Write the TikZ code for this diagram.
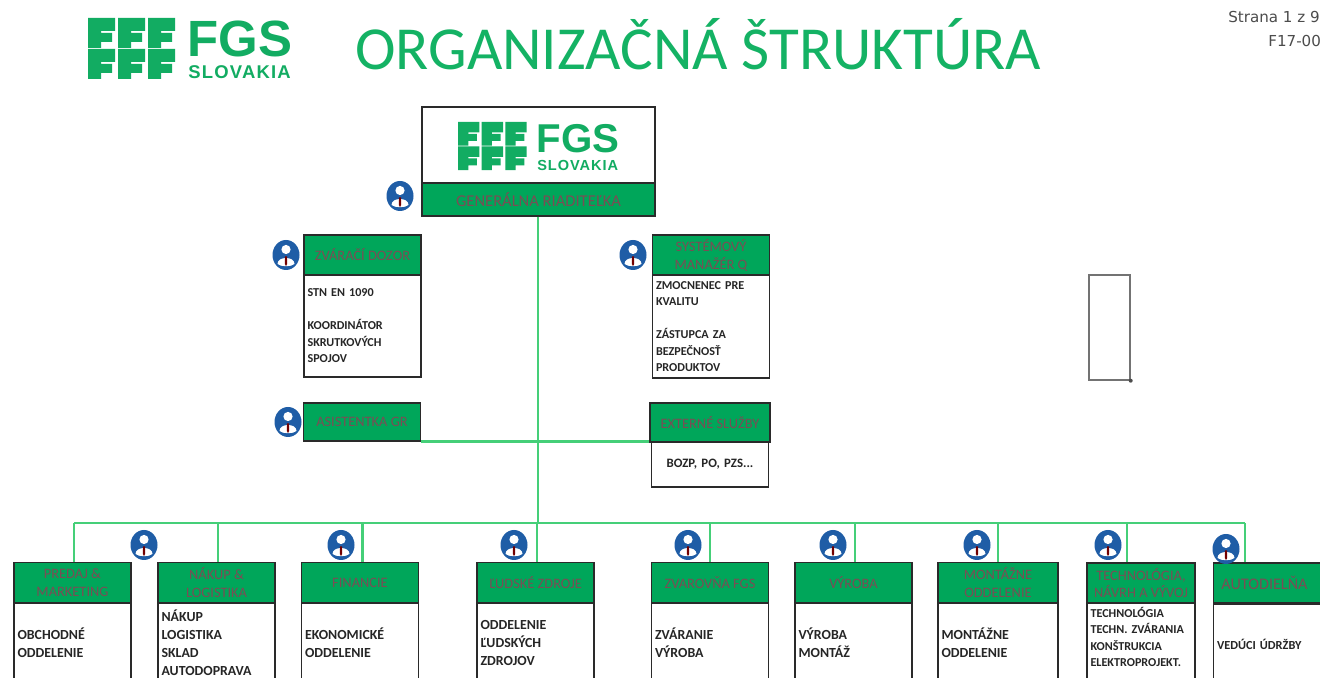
\documentclass[tikz,border=0pt]{standalone}
\usepackage{fontspec}
\setmainfont{Carlito}
\newfontfamily\logofont{Liberation Sans}
\newfontfamily\pagefont{DejaVu Sans}
\definecolor{fgsgreen}{HTML}{00A65A}
\definecolor{logogreen}{HTML}{12AC62}
\definecolor{titlegreen}{HTML}{14B264}
\definecolor{linegreen}{HTML}{45CF78}
\definecolor{headtext}{HTML}{7B4D55}
\definecolor{boxline}{HTML}{2A2A2A}
\definecolor{iconblue}{HTML}{1F5DA6}
\tikzset{
headbox/.style = {draw=boxline, fill=fgsgreen, line width=.8pt, text=headtext, align=center,
                  inner sep=0pt, minimum width=2.34cm, minimum height=.8cm,
                  font=\fontsize{8.2}{10.2}\selectfont},
bodybox/.style = {draw=boxline, fill=white, line width=.8pt, text=black!85, align=left,
                  inner xsep=2pt, inner ysep=0pt, text width=2.34cm-4pt, minimum width=2.34cm,
                  font=\bfseries\fontsize{6.9}{9.4}\selectfont},
deptbody/.style = {bodybox, minimum height=1.6cm, font=\bfseries\fontsize{7.9}{10.2}\selectfont},
trunk/.style = {draw=linegreen, line width=1.6pt},
pics/personicon/.style = {code = {
    \fill[iconblue] (0,0) ellipse [x radius=13.5, y radius=15];
    \fill[white] (0,-5.5) circle [radius=4.6];
    \fill[white] (-8.5,9) .. controls (-8.5,1) and (8.5,1) .. (8.5,9) .. controls (5,12) and (-5,12) .. (-8.5,9) -- cycle;
    \fill[red!45!black] (-1,1.5) -- (1,1.5) -- (1.2,9) -- (0,11) -- (-1.2,9) -- cycle;
}},
pics/fgslogo/.style = {code = {
    \foreach \col in {0,30,60} {
        \foreach \row in {0,31} {
            \fill[logogreen, shift={(\col,\row)}] (0,0) -- (27,0) -- (27,13) -- (13,13) -- (13,15) -- (24,15) -- (24,24) -- (13,24) -- (13,30) -- (0,30) -- cycle;
        }
    }
    \node[logogreen, anchor=base west, inner sep=0pt] (-name) at (99,39) {\logofont\bfseries\fontsize{29}{29}\selectfont FGS};
    \node[logogreen, anchor=base west, inner sep=0pt] (-sub) at (100,61) {\logofont\bfseries\addfontfeature{LetterSpace=6.5}\fontsize{10.5}{10.5}\selectfont SLOVAKIA};
}},
}

\begin{document}
\begin{tikzpicture}[x=.02cm, y=-.02cm]
	\useasboundingbox (0,0) rectangle (1320,678);
	\clip (0,0) rectangle (1320,678);
	\fill[white] (0,0) rectangle (1320,678);

	% page head
	\pic (logotop) at (88,18) {fgslogo};
	\node[titlegreen, anchor=base west, inner sep=0pt, font=\fontsize{34.8}{36}\selectfont] (title) at (355,70) {ORGANIZAČNÁ ŠTRUKTÚRA};
	\node[black!70, anchor=base west, inner sep=0pt, font=\pagefont\fontsize{8.6}{8.6}\selectfont] (page) at (1228,23) {Strana 1 z 9};
	\node[black!70, anchor=base west, inner sep=0pt, font=\pagefont\fontsize{8.6}{8.6}\selectfont] (form) at (1268,47) {F17-00};

	% management
	\node[draw=boxline, fill=white, line width=.8pt, minimum width=4.66cm, minimum height=1.52cm, inner sep=0pt] (grlogo) at (538.5,145) {};
	\pic[scale=.79, transform shape] (logogr) at (458,122) {fgslogo};
	\node[headbox, minimum width=4.66cm, minimum height=.66cm, font=\fontsize{9.4}{10.2}\selectfont] (gr) at (538.5,199.5) {GENERÁLNA RIADITEĽKA};

	\node[bodybox, minimum height=2.04cm] (dozorbody) at (362.5,326) {STN EN 1090\\~\\KOORDINÁTOR\\SKRUTKOVÝCH\\SPOJOV};
	\node[headbox] (dozor) at (362.5,255) {ZVÁRAČÍ DOZOR};
	\node[bodybox, minimum height=2.06cm] (manazerbody) at (711,326.5) {ZMOCNENEC PRE\\KVALITU\\~\\ZÁSTUPCA ZA\\BEZPEČNOSŤ\\PRODUKTOV};
	\node[headbox] (manazer) at (711,255) {SYSTÉMOVÝ\\MANAŽÉR Q};
	\node[headbox, minimum height=.76cm] (asistent) at (362,422) {ASISTENTKA GR};
	\node[bodybox, minimum height=.9cm, align=center, font=\bfseries\fontsize{7.3}{9.4}\selectfont] (externebody) at (710,464.5) {BOZP, PO, PZS...};
	\node[headbox, minimum width=2.4cm, minimum height=.78cm] (externe) at (710,422.5) {EXTERNÉ SLUŽBY};

	% departments
	\node[deptbody] (predajbody) at (72.5,643) {OBCHODNÉ\\ODDELENIE};
	\node[headbox] (predaj) at (72.5,582.5) {PREDAJ \&\\MARKETING};
	\node[deptbody] (nakupbody) at (216.5,643) {NÁKUP\\LOGISTIKA\\SKLAD\\AUTODOPRAVA};
	\node[headbox] (nakup) at (216.5,582.5) {NÁKUP \&\\LOGISTIKA};
	\node[deptbody] (financiebody) at (360,643) {EKONOMICKÉ\\ODDELENIE};
	\node[headbox] (financie) at (360,582.5) {FINANCIE};
	\node[deptbody] (zdrojebody) at (535.5,643) {ODDELENIE\\ĽUDSKÝCH\\ZDROJOV};
	\node[headbox] (zdroje) at (535.5,582.5) {ĽUDSKÉ ZDROJE};
	\node[deptbody] (zvarovnabody) at (710,643) {ZVÁRANIE\\VÝROBA};
	\node[headbox] (zvarovna) at (710,582.5) {ZVAROVŇA FGS};
	\node[deptbody] (vyrobabody) at (853.5,643) {VÝROBA\\MONTÁŽ};
	\node[headbox] (vyroba) at (853.5,582.5) {VÝROBA};
	\node[deptbody, minimum width=2.4cm, text width=2.4cm-4pt] (montazbody) at (998,643) {MONTÁŽNE\\ODDELENIE};
	\node[headbox, minimum width=2.4cm] (montaz) at (998,582.5) {MONTÁŽNE\\ODDELENIE};
	\node[deptbody, minimum width=2.16cm, text width=2.16cm-4pt, yshift=.12cm, minimum height=1.84cm, font=\bfseries\fontsize{6.9}{9.4}\selectfont] (technobody) at (1141,643) {TECHNOLÓGIA\\TECHN. ZVÁRANIA\\KONŠTRUKCIA\\ELEKTROPROJEKT.};
	\node[headbox, minimum width=2.16cm] (techno) at (1141,583) {TECHNOLÓGIA,\\NÁVRH A VÝVOJ};
	\node[deptbody, font=\bfseries\fontsize{7}{9.4}\selectfont] (autobody) at (1272,644) {VEDÚCI ÚDRŽBY};
	\node[headbox, font=\fontsize{9.2}{10.2}\selectfont] (auto) at (1272,583) {\hspace*{-.3cm}AUTODIELŇA};

	% connectors
	\coordinate (bus) at (538,523);
	\coordinate (bus1) at (74,523);
	\coordinate (bus2) at (218,523);
	\coordinate (bus3) at (362.5,523);
	\coordinate (bus4) at (537,523);
	\coordinate (bus5) at (710,523);
	\coordinate (bus6) at (855,523);
	\coordinate (bus7) at (998,523);
	\coordinate (bus8) at (1127,523);
	\coordinate (bus9) at (1245,523);
	\draw[trunk] (gr.south -| bus) to (bus);
	\draw[trunk] (asistent.south east) to (externe.west |- asistent.south east);
	\draw[trunk] (bus1) to (bus9);
	\draw[trunk] (bus1) to (bus1 |- predaj.north);
	\draw[trunk] (bus2) to (bus2 |- nakup.north);
	\draw[trunk] (bus3) to (bus3 |- financie.north);
	\draw[trunk] (bus4) to (bus4 |- zdroje.north);
	\draw[trunk] (bus5) to (bus5 |- zvarovna.north);
	\draw[trunk] (bus6) to (bus6 |- vyroba.north);
	\draw[trunk] (bus7) to (bus7 |- montaz.north);
	\draw[trunk] (bus8) to (bus8 |- techno.north);
	\draw[trunk] (bus9) to (bus9 |- auto.north);

	% people
	\pic at (400,196) {personicon};
	\pic at (286,255) {personicon};
	\pic at (633,255) {personicon};
	\pic at (288,422) {personicon};
	\pic at (144,545) {personicon};
	\pic at (341,545) {personicon};
	\pic at (514,545) {personicon};
	\pic at (688,545) {personicon};
	\pic at (833,545) {personicon};
	\pic at (977,545) {personicon};
	\pic at (1108,545) {personicon};
	\pic at (1226,549) {personicon};

	% empty frame
	\node[draw=black!55, line width=.8pt, minimum width=.82cm, minimum height=2.1cm, inner sep=0pt] (frame) at (1109.5,327.5) {};
	\fill[black!70] (frame.south east) circle [radius=2];
\end{tikzpicture}
\end{document}
